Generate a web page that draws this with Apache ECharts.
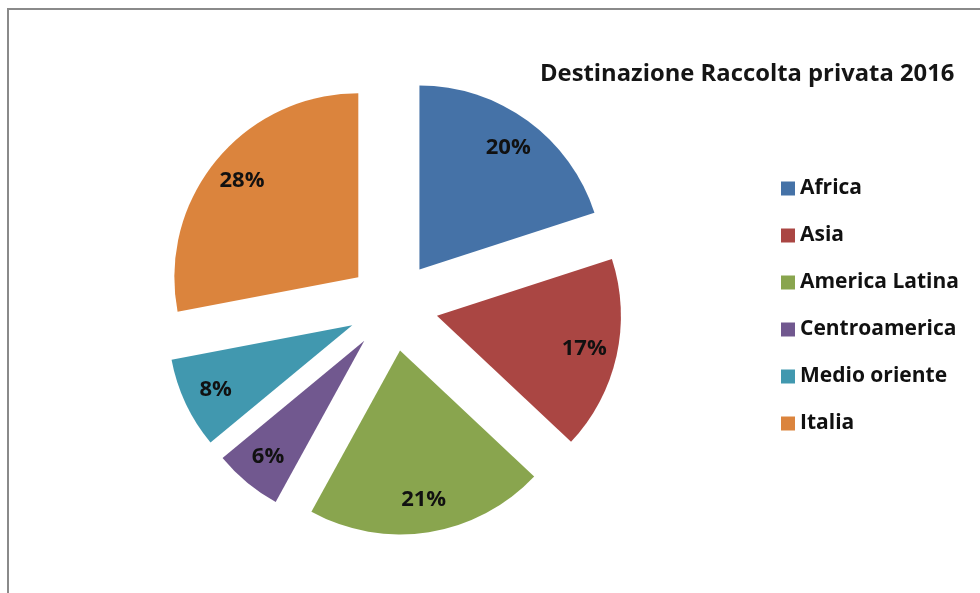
<!DOCTYPE html>
<html>
<head>
<meta charset="utf-8">
<script src="https://cdn.jsdelivr.net/npm/echarts@6/dist/echarts.min.js"></script>
<style>
  html, body { margin: 0; padding: 0; background: #fff; }
  #chart { width: 980px; height: 593px; }
</style>
</head>
<body>
<div id="chart"></div>
<script>
const titleText = "Destinazione Raccolta privata 2016";
const regions = ["Africa", "Asia", "America Latina", "Centroamerica", "Medio oriente", "Italia"];
const shares = [20, 17, 21, 6, 8, 28];
const colors = ["#4572A7", "#AA4643", "#89A54E", "#71588F", "#4198AF", "#DB843D"];

const chart = echarts.init(document.getElementById("chart"), null, { renderer: "canvas" });

const font = "'Open Sans', Lato, sans-serif";
const center = [393, 306];
const explode = 45;

// fetta piena, tutte "esplose"
const fullData = regions.map((name, i) => ({
  name,
  value: shares[i],
  selected: true,
  itemStyle: { color: colors[i] }
}));

// anello trasparente solo per posizionare le etichette più verso il bordo
const labelData = regions.map((name, i) => ({
  name,
  value: shares[i],
  selected: true,
  itemStyle: { color: "rgba(0,0,0,0)" }
}));

const option = {
  animation: false,
  color: colors,
  title: {
    text: titleText,
    left: 540,
    top: 62,
    padding: 0,
    textStyle: { fontFamily: font, fontSize: 23.8, fontWeight: "bold", color: "#151515" }
  },
  legend: {
    orient: "vertical",
    left: 781,
    top: 178,
    padding: 0,
    itemWidth: 14,
    itemHeight: 14,
    itemGap: 26,
    icon: "rect",
    data: regions,
    textStyle: { fontFamily: font, fontSize: 21, fontWeight: "bold", color: "#111" },
    selectedMode: false
  },
  graphic: [
    {
      type: "rect",
      shape: { x: 8, y: 9, width: 1000, height: 1000 },
      style: { fill: "none", stroke: "#8a8a8a", lineWidth: 2 },
      silent: true
    }
  ],
  series: [
    {
      type: "pie",
      center,
      radius: 184,
      startAngle: 90,
      clockwise: true,
      selectedMode: "multiple",
      selectedOffset: explode,
      label: { show: false },
      labelLine: { show: false },
      emphasis: { disabled: true },
      data: fullData
    },
    {
      type: "pie",
      center,
      radius: [112, 184],
      startAngle: 90,
      clockwise: true,
      selectedMode: "multiple",
      selectedOffset: explode,
      silent: true,
      legendHoverLink: false,
      label: {
        show: true,
        position: "inside",
        formatter: "{c}%",
        fontFamily: font,
        fontSize: 22,
        fontWeight: "bold",
        color: "#111"
      },
      labelLine: { show: false },
      emphasis: { disabled: true },
      data: labelData
    }
  ]
};

chart.setOption(option);
</script>
</body>
</html>
